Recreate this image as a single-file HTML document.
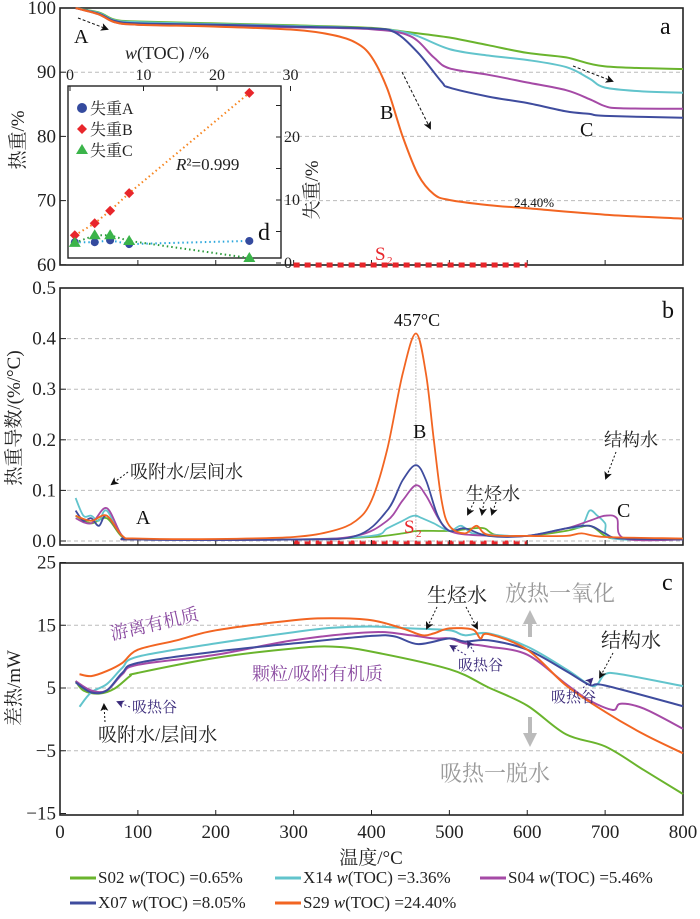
<!DOCTYPE html>
<html><head><meta charset="utf-8">
<style>
body{margin:0;background:#fff;}
svg{display:block;font-family:"Liberation Serif","Noto Serif CJK SC","Noto Sans CJK SC",serif;}
</style></head>
<body>
<svg id="chart" width="700" height="919" viewBox="0 0 700 919" xmlns="http://www.w3.org/2000/svg"></svg>
<script>
// ---------------- DATA ----------------
const temps = {
  S02:[20,50,70,100,200,300,400,450,500,550,600,650,700,800],
  X14:[20,50,70,100,200,300,400,450,500,550,600,650,680,700,750,800],
  S04:[20,50,70,100,200,300,400,450,480,500,550,600,650,680,700,720,800],
  X07:[20,50,70,100,200,300,400,430,460,490,500,550,600,650,680,700,800],
  S29:[20,50,70,100,200,300,350,380,400,420,440,460,480,500,550,600,700,800]
};
const tgValues = {
  S02:[100,99.3,98.2,97.9,97.6,97.3,96.9,96.2,95.4,94.2,93.0,92.3,90.9,90.5],
  X14:[100,99.2,98.1,97.8,97.5,97.2,96.8,96.0,93.6,92.6,91.9,90.8,89.0,87.6,87.0,86.8],
  S04:[100,99.0,97.8,97.4,97.2,97.0,96.7,95.6,92.3,90.6,89.6,88.4,87.2,85.8,84.7,84.4,84.3],
  X07:[100,99.1,98.0,97.6,97.4,97.1,96.8,96.2,93.0,88.5,87.6,86.2,85.2,83.9,83.5,83.2,82.9],
  S29:[100,99.0,97.8,97.4,97.1,96.6,95.8,94.6,92.4,87.5,80.0,74.0,71.0,70.1,69.3,68.8,67.8,67.2]
};
const dtgTemps = {
  S02:[20,40,60,80,100,300,400,440,460,500,530,545,560,600,650,680,700,720,800],
  X14:[20,30,40,50,60,80,100,300,400,420,440,450,457,465,480,500,515,530,560,600,650,670,680,690,700,710,800],
  S04:[20,40,60,80,100,300,380,420,440,457,470,490,510,560,600,650,680,700,715,725,800],
  X07:[20,30,40,50,60,80,100,300,380,420,440,457,470,485,500,520,550,600,650,680,700,720,800],
  S29:[20,40,60,80,100,200,300,350,380,400,420,440,457,470,480,490,500,520,535,550,600,650,670,700,800]
};
const dtgValues = {
  S02:[0.05,0.035,0.045,0.008,0.003,0.003,0.008,0.015,0.02,0.02,0.025,0.025,0.012,0.01,0.02,0.03,0.01,0.004,0.003],
  X14:[0.085,0.05,0.05,0.04,0.06,0.01,0.003,0.003,0.01,0.025,0.04,0.048,0.05,0.045,0.035,0.02,0.03,0.015,0.012,0.01,0.025,0.03,0.06,0.05,0.035,0.005,0.003],
  S04:[0.045,0.035,0.065,0.01,0.003,0.003,0.01,0.04,0.08,0.11,0.09,0.035,0.015,0.01,0.01,0.025,0.04,0.05,0.045,0.005,0.003],
  X07:[0.06,0.04,0.045,0.03,0.05,0.01,0.003,0.003,0.01,0.06,0.12,0.15,0.12,0.05,0.02,0.025,0.01,0.01,0.025,0.03,0.015,0.005,0.003],
  S29:[0.05,0.04,0.05,0.01,0.005,0.004,0.008,0.02,0.04,0.08,0.18,0.33,0.41,0.33,0.2,0.08,0.03,0.015,0.03,0.012,0.01,0.01,0.015,0.008,0.005]
};
const dscTemps = {
  S02:[20,30,50,70,90,100,200,300,350,400,500,550,600,650,700,750,800],
  X14:[25,40,60,80,100,200,300,350,400,450,500,520,550,600,650,680,690,700,720,800],
  S04:[20,40,60,80,100,200,300,400,450,480,500,520,550,600,650,680,710,720,750,800],
  X07:[20,40,60,80,100,200,300,400,430,460,500,520,550,600,650,680,700,800],
  S29:[25,40,60,80,100,150,200,300,350,400,440,465,480,500,530,540,550,600,650,700,750,800]
};
const dscValues = {
  S02:[6.1,4.6,4.1,4.9,6.9,7.4,9.8,11.3,11.6,10.8,8.0,5.1,2.2,-2.4,-4.3,-8.1,-11.9],
  X14:[2.0,4.3,5.6,8.2,10.0,12.1,13.9,14.6,14.8,14.5,14.2,13.4,13.7,11.6,8.0,5.5,5.6,7.2,7.2,5.3],
  S04:[6.1,4.6,4.6,7.2,8.7,10.3,12.6,13.9,13.4,12.9,12.9,12.1,11.6,10.3,5.6,3.0,1.5,2.5,1.7,-1.5],
  X07:[5.9,4.3,4.6,7.4,9.0,10.8,12.1,13.3,13.2,12.0,12.9,12.4,12.6,11.1,7.7,5.5,5.4,2.1],
  S29:[7.2,6.9,7.7,9.0,11.1,12.6,14.2,15.8,16.1,15.8,14.5,13.4,13.7,14.5,14.3,12.9,13.6,11.1,5.4,1.2,-2.4,-5.4]
};
const tocValues = [0.65,3.36,5.46,8.05,24.40];
const lossA = [3.3,3.3,3.6,3.0,3.5];
const lossB = [4.4,6.3,8.3,11.1,27.0];
const lossC = [3.2,4.4,4.4,3.5,0.8];
const seriesNames = ['S02','X14','S04','X07','S29'];
const seriesColors = {S02:'#6ab42d',X14:'#62c4cc',S04:'#a54aa6',X07:'#3f4c9e',S29:'#f26522'};
const legendLabels = ['S02','X14','S04','X07','S29'];
const legendToc = ['0.65%','3.36%','5.46%','8.05%','24.40%'];
const xTicks = [0,100,200,300,400,500,600,700,800];
const aTicks = [60,70,80,90,100];
const bTicks = [0.0,0.1,0.2,0.3,0.4,0.5];
const cTicks = [-15,-5,5,15,25];
const dTopTicks = [0,10,20,30];
const dRightTicks = [0,10,20];

// ---------------- AXES ----------------
const X0=60, X1=683;
const xT = t => X0 + t*(X1-X0)/800;
const yA = v => 8 + (100-v)*6.42;
const yB = v => 541 - v*506;
const yC = v => 688 - (v-5)*6.275;
const xD = t => 70 + t*7.35;
const yD = v => 263 - v*6.3;

const svg = document.getElementById('chart');
const NS='http://www.w3.org/2000/svg';
function el(tag, attrs, parent){
  const e=document.createElementNS(NS,tag);
  for(const k in attrs) e.setAttribute(k,attrs[k]);
  (parent||svg).appendChild(e);
  return e;
}
function txt(s, x, y, attrs, parent){
  const e=el('text', Object.assign({x:x,y:y}, attrs||{}), parent);
  e.textContent=s; return e;
}
function smoothPath(pts){
  let d='M'+pts[0][0].toFixed(1)+','+pts[0][1].toFixed(1);
  for(let i=0;i<pts.length-1;i++){
    const p0=pts[Math.max(0,i-1)],p1=pts[i],p2=pts[i+1],p3=pts[Math.min(pts.length-1,i+2)];
    const c1=[p1[0]+(p2[0]-p0[0])/6,p1[1]+(p2[1]-p0[1])/6];
    const c2=[p2[0]-(p3[0]-p1[0])/6,p2[1]-(p3[1]-p1[1])/6];
    d+=' C'+c1[0].toFixed(1)+','+c1[1].toFixed(1)+' '+c2[0].toFixed(1)+','+c2[1].toFixed(1)+' '+p2[0].toFixed(1)+','+p2[1].toFixed(1);
  }
  return d;
}
el('defs',{}).innerHTML='<marker id="ah" markerWidth="8" markerHeight="8" refX="6" refY="4" orient="auto"><path d="M0,0 L8,4 L0,8 L2,4z" fill="#111"/></marker><marker id="ahp" markerWidth="8" markerHeight="8" refX="6" refY="4" orient="auto"><path d="M0,0 L8,4 L0,8 L2,4z" fill="#3a2a7a"/></marker>';

function panelFrame(name, top, bottom, ticks, yf, fmt, grid){
  const g=el('g',{});
  
  
  ticks.forEach(v=>{
    const y=yf(v);
    if(grid && y>top+2 && y<bottom-2) el('line',{x1:X0,x2:X1,y1:y,y2:y,stroke:'#bbb','stroke-dasharray':'4,3','stroke-width':1},g);
    el('line',{x1:X0,x2:X0+6,y1:y,y2:y,stroke:'#222'},g);
    const t=txt(fmt(v), X0-4, y+6, {'text-anchor':'end','font-size':19,fill:'#222'}, g);
    
    
  });
  xTicks.forEach(v=>{ el('line',{x1:xT(v),x2:xT(v),y1:bottom,y2:bottom-5,stroke:'#222'},g); });
  el('rect',{x:X0,y:top,width:X1-X0,height:bottom-top,fill:'none',stroke:'#222','stroke-width':1.6},g);
  return g;
}

// ===== Panel a =====
panelFrame('tg-panel-a', 8, 265, aTicks, yA, v=>String(v), true);
seriesNames.forEach(n=>{
  const pts=temps[n].map((t,i)=>[xT(t), yA(tgValues[n][i])]);
  const p=el('path',{d:smoothPath(pts),fill:'none',stroke:seriesColors[n],'stroke-width':2});
  
  
});
[265,543].forEach(y=>{
  const r=el('line',{x1:xT(300),x2:xT(600),y1:y,y2:y,stroke:'#e8262b','stroke-width':5,'stroke-dasharray':'6,5'});
  
  
});
const ya=txt('热重/%',0,0,{'font-size':19,fill:'#222',transform:'translate(24,140) rotate(-90)','text-anchor':'middle'});


txt('a',660,34,{'font-size':24,fill:'#111'});
txt('A',74,43,{'font-size':20,fill:'#111'});
el('line',{x1:78,y1:18,x2:107,y2:29,stroke:'#111','stroke-dasharray':'3,2','marker-end':'url(#ah)'});
txt('B',380,119,{'font-size':20,fill:'#111'});
el('line',{x1:402,y1:72,x2:430,y2:128,stroke:'#111','stroke-dasharray':'3,2','marker-end':'url(#ah)'});
txt('C',580,136,{'font-size':20,fill:'#111'});
el('line',{x1:573,y1:66,x2:612,y2:81,stroke:'#111','stroke-dasharray':'3,2','marker-end':'url(#ah)'});
txt('24.40%',514,207,{'font-size':13,fill:'#111'});
txt('S',375,260,{'font-size':19,fill:'#e8262b'});
txt('2',387,264,{'font-size':11,fill:'#e8262b'});

// ===== Inset d =====
const gd=el('g',{});


el('rect',{x:68,y:86,width:213,height:172,fill:'#fff',stroke:'#222','stroke-width':1.4},gd);
dTopTicks.forEach(v=>{
  el('line',{x1:xD(v),x2:xD(v),y1:86,y2:91,stroke:'#222'},gd);
  txt(String(v),xD(v),80,{'text-anchor':'middle','font-size':16,fill:'#222'},gd);
});
[0,5,10,15,20,25].forEach(v=>{ el('line',{x1:281,x2:276,y1:yD(v),y2:yD(v),stroke:'#222'},gd); });
dRightTicks.forEach(v=>{ txt(String(v),284,yD(v)+5,{'font-size':16,fill:'#222'},gd); });
const wt=txt('',125,59,{'font-size':18,fill:'#222'},gd);
wt.innerHTML='<tspan font-style="italic">w</tspan>(TOC) /%';
txt('失重/%',0,0,{'font-size':19,fill:'#222',transform:'translate(318,190) rotate(-90)','text-anchor':'middle'},gd);
function fitLine(vals,color){
  const pts=tocValues.map((t,i)=>xD(t).toFixed(1)+','+yD(vals[i]).toFixed(1)).join(' ');
  el('polyline',{points:pts,fill:'none',stroke:color,'stroke-width':2,'stroke-dasharray':'1.5,3'},gd);
}
fitLine(lossB,'#f7851f'); fitLine(lossA,'#2aa6dc'); fitLine(lossC,'#2a9a3a');
tocValues.forEach((t,i)=>{
  const c=el('circle',{cx:xD(t),cy:yD(lossA[i]),r:4,fill:'#344a9e'},gd);
   
  const x=xD(t),y=yD(lossB[i]);
  const d=el('polygon',{points:`${x},${y-5} ${x+5},${y} ${x},${y+5} ${x-5},${y}`,fill:'#e8262b'},gd);
   
  const y2=yD(lossC[i]);
  const tr=el('polygon',{points:`${x},${y2-6} ${x+6},${y2+4} ${x-6},${y2+4}`,fill:'#3bb44a'},gd);
   
});
el('circle',{cx:82,cy:108,r:5,fill:'#344a9e'},gd);
txt('失重A',90,114,{'font-size':16,fill:'#222'},gd);
el('polygon',{points:'82,124 87,129 82,134 77,129',fill:'#e8262b'},gd);
txt('失重B',90,135,{'font-size':16,fill:'#222'},gd);
el('polygon',{points:'82,144 88,154 76,154',fill:'#3bb44a'},gd);
txt('失重C',90,156,{'font-size':16,fill:'#222'},gd);
const r2=txt('',176,170,{'font-size':17,fill:'#222'},gd);
r2.innerHTML='<tspan font-style="italic">R</tspan>²=0.999';
txt('d',258,240,{'font-size':24,fill:'#111'},gd);

// ===== Panel b =====
panelFrame('dtg-panel-b', 288, 545, bTicks, yB, v=>v.toFixed(1), true);
el('line',{x1:xT(457),x2:xT(457),y1:yB(0.41),y2:yB(0),stroke:'#888','stroke-dasharray':'1,2'});
seriesNames.forEach(n=>{
  const pts=dtgTemps[n].map((t,i)=>[xT(t), yB(dtgValues[n][i])]);
  const p=el('path',{d:smoothPath(pts),fill:'none',stroke:seriesColors[n],'stroke-width':1.8});
  
  
});
txt('热重导数/(%/°C)',0,0,{'font-size':19,fill:'#222',transform:'translate(20,418) rotate(-90)','text-anchor':'middle'});
txt('b',662,318,{'font-size':24,fill:'#111'});
txt('457°C',417,326,{'font-size':18,fill:'#111','text-anchor':'middle'});
txt('B',413,438,{'font-size':20,fill:'#111'});
txt('S',404,533,{'font-size':19,fill:'#e8262b'});
txt('2',416,537,{'font-size':11,fill:'#e8262b'});
txt('吸附水/层间水',130,478,{'font-size':18,fill:'#222'});
el('line',{x1:128,y1:472,x2:112,y2:484,stroke:'#111','stroke-dasharray':'2,2','marker-end':'url(#ah)'});
txt('A',136,524,{'font-size':20,fill:'#111'});
txt('生烃水',466,500,{'font-size':18,fill:'#222'});
[[474,502,468,514],[484,502,482,514],[496,502,492,514]].forEach(a=>el('line',{x1:a[0],y1:a[1],x2:a[2],y2:a[3],stroke:'#111','stroke-dasharray':'2,2','marker-end':'url(#ah)'}));
txt('结构水',604,446,{'font-size':18,fill:'#222'});
el('line',{x1:616,y1:452,x2:606,y2:478,stroke:'#111','stroke-dasharray':'2,2','marker-end':'url(#ah)'});
txt('C',617,517,{'font-size':20,fill:'#111'});

// ===== Panel c =====
panelFrame('dsc-panel-c', 563, 815, cTicks, yC, v=>v<0?'−'+Math.abs(v):String(v), true);
seriesNames.forEach(n=>{
  const pts=dscTemps[n].map((t,i)=>[xT(t), yC(dscValues[n][i])]);
  const p=el('path',{d:smoothPath(pts),fill:'none',stroke:seriesColors[n],'stroke-width':2});
  
  
});
xTicks.forEach(v=>{
  const t=txt(String(v),xT(v),838,{'text-anchor':'middle','font-size':19,fill:'#222'});
  
  
});
const xt=txt('温度/°C',371,864,{'text-anchor':'middle','font-size':19,fill:'#222'});


txt('差热/mW',0,0,{'font-size':19,fill:'#222',transform:'translate(20,688) rotate(-90)','text-anchor':'middle'});
txt('c',662,590,{'font-size':24,fill:'#111'});
txt('游离有机质',0,0,{'font-size':18,fill:'#8a4aa0',transform:'translate(112,640) rotate(-13)'});
txt('颗粒/吸附有机质',252,680,{'font-size':18,fill:'#8a4aa0'});
txt('吸热谷',132,712,{'font-size':15,fill:'#3a2a7a'});
el('line',{x1:130,y1:707,x2:118,y2:702,stroke:'#3a2a7a','stroke-dasharray':'2,2','marker-end':'url(#ahp)'});
txt('吸附水/层间水',98,741,{'font-size':19,fill:'#222'});
el('line',{x1:105,y1:722,x2:104,y2:705,stroke:'#111','stroke-dasharray':'2,2','marker-end':'url(#ah)'});
txt('生烃水',427,602,{'font-size':20,fill:'#222'});
el('line',{x1:437,y1:607,x2:427,y2:628,stroke:'#111','stroke-dasharray':'2,2','marker-end':'url(#ah)'});
el('line',{x1:466,y1:607,x2:477,y2:628,stroke:'#111','stroke-dasharray':'2,2','marker-end':'url(#ah)'});
txt('放热一氧化',505,601,{'font-size':22,fill:'#9a9a9a'});
txt('吸热一脱水',440,781,{'font-size':22,fill:'#9a9a9a'});
el('line',{x1:530,y1:637,x2:530,y2:622,stroke:'#bbb','stroke-width':4});
el('polygon',{points:'523,624 537,624 530,610',fill:'#bbb'});
el('line',{x1:530,y1:717,x2:530,y2:735,stroke:'#bbb','stroke-width':4});
el('polygon',{points:'523,733 537,733 530,747',fill:'#bbb'});
txt('结构水',601,647,{'font-size':20,fill:'#222'});
el('line',{x1:613,y1:653,x2:600,y2:677,stroke:'#111','stroke-dasharray':'2,2','marker-end':'url(#ah)'});
txt('吸热谷',458,670,{'font-size':15,fill:'#3a2a7a'});
el('line',{x1:466,y1:655,x2:451,y2:646,stroke:'#3a2a7a','stroke-dasharray':'2,2','marker-end':'url(#ahp)'});
el('line',{x1:474,y1:652,x2:468,y2:642,stroke:'#3a2a7a','stroke-dasharray':'2,2','marker-end':'url(#ahp)'});
txt('吸热谷',551,702,{'font-size':15,fill:'#3a2a7a'});
el('line',{x1:583,y1:688,x2:592,y2:679,stroke:'#3a2a7a','stroke-dasharray':'2,2','marker-end':'url(#ahp)'});

// ===== Legend =====
const lg=el('g',{});


const legendPos=[[70,883],[275,883],[480,883],[70,908],[275,908]];
seriesNames.forEach((n,i)=>{
  const [x,y]=legendPos[i];
  const g=el('g',{},lg);
  
  
  el('line',{x1:x,x2:x+26,y1:y-5,y2:y-5,stroke:seriesColors[n],'stroke-width':3},g);
  const t=txt('',x+28,y,{'font-size':17,fill:'#222'},g);
  t.innerHTML=legendLabels[i]+' <tspan font-style="italic">w</tspan>(TOC) ='+legendToc[i];
});
</script>
</body></html>
